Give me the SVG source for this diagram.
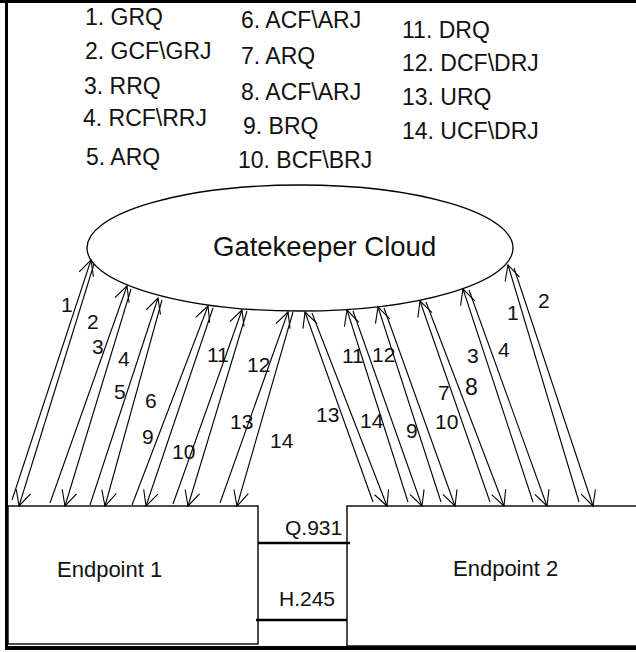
<svg xmlns="http://www.w3.org/2000/svg" width="636" height="652" viewBox="0 0 636 652">
<style>
text{font-family:"Liberation Sans",Arial,sans-serif;fill:#111}
.lst{font-size:23px}
.lbl{font-size:21px}
.big{font-size:22px}
.ln{stroke:#000;stroke-width:1.1;fill:none}
.box{fill:#fff;stroke:#000;stroke-width:1.4}
</style>
<defs>
<marker id="ah" viewBox="-17 -9 18 18" refX="0" refY="0" markerWidth="18" markerHeight="18" orient="auto" markerUnits="userSpaceOnUse">
<path d="M-15,-7.5 L0,0 L-15,7.5" fill="none" stroke="#000" stroke-width="1.1"/>
</marker>
</defs>
<rect width="636" height="652" fill="#fff"/>
<g id="frame" stroke="#000" fill="none">
<path d="M0,1.5 H636" stroke-width="3"/>
<path d="M6.5,0 V650" stroke-width="3"/>
<path d="M5,648 H636" stroke-width="4"/>
</g>
<g id="legend" class="lst">
<text x="85" y="25">1. GRQ</text>
<text x="85" y="59">2. GCF\GRJ</text>
<text x="84" y="94">3. RRQ</text>
<text x="83" y="126">4. RCF\RRJ</text>
<text x="86" y="165">5. ARQ</text>
<text x="241" y="28">6. ACF\ARJ</text>
<text x="241" y="64">7. ARQ</text>
<text x="241" y="100">8. ACF\ARJ</text>
<text x="243" y="134">9. BRQ</text>
<text x="238" y="168">10. BCF\BRJ</text>
<text x="402" y="38">11. DRQ</text>
<text x="402" y="71">12. DCF\DRJ</text>
<text x="402" y="105">13. URQ</text>
<text x="402" y="139">14. UCF\DRJ</text>
</g>
<g id="gatekeeper">
<ellipse cx="300" cy="248" rx="213" ry="63" fill="#fff" stroke="#000" stroke-width="1.3"/>
<text x="213" y="256" font-size="27.5">Gatekeeper Cloud</text>
</g>
<g id="endpoint1">
<rect class="box" x="8" y="506" width="250" height="138"/>
<text class="big" x="57" y="577">Endpoint 1</text>
</g>
<g id="endpoint2">
<rect class="box" x="347" y="506" width="295" height="140"/>
<text class="big" x="453" y="576">Endpoint 2</text>
</g>
<g id="connectors">
<g class="ln" marker-end="url(#ah)">
<path d="M12,500 L91,260"/><path d="M94,264 L19,506"/>
<path d="M50,503 L127,286"/><path d="M131,289 L65,506"/>
<path d="M90,505 L158,298"/><path d="M162,300 L105,506"/>
<path d="M132,505 L208,306"/><path d="M213,308 L146,506"/>
<path d="M173,504 L242,310"/><path d="M247,311 L188,506"/>
<path d="M220,503 L288,312"/><path d="M293,312 L237,506"/>
<path d="M373,502 L305,312"/><path d="M312,313 L387,506"/>
<path d="M408,502 L347,310"/><path d="M353,311 L422,506"/>
<path d="M441,502 L378,307"/><path d="M384,308 L455,506"/>
<path d="M490,502 L420,301"/><path d="M426,302 L504,506"/>
<path d="M533,502 L463,289"/><path d="M469,290 L547,506"/>
<path d="M579,502 L508,265"/><path d="M514,268 L593,506"/>
</g>
<path d="M258,543 H350" stroke="#000" stroke-width="2.5"/>
<path d="M256,620 H347" stroke="#000" stroke-width="2.5"/>
<text class="lbl" x="285" y="535">Q.931</text>
<text class="lbl" x="279" y="606">H.245</text>
<g class="lbl">
<text x="61" y="312">1</text>
<text x="87" y="329">2</text>
<text x="92" y="354">3</text>
<text x="118" y="366">4</text>
<text x="114" y="399">5</text>
<text x="145" y="408">6</text>
<text x="142" y="444">9</text>
<text x="172" y="459">10</text>
<text x="207" y="362">11</text>
<text x="247" y="372">12</text>
<text x="230" y="429">13</text>
<text x="270" y="448">14</text>
<text x="316" y="422">13</text>
<text x="342" y="363">11</text>
<text x="372" y="362">12</text>
<text x="360" y="428">14</text>
<text x="406" y="438">9</text>
<text x="435" y="429">10</text>
<text x="438" y="400">7</text>
<text x="465" y="395" font-size="23">8</text>
<text x="467" y="363">3</text>
<text x="498" y="357">4</text>
<text x="507" y="320">1</text>
<text x="538" y="308">2</text>
</g>
</g>
</svg>
